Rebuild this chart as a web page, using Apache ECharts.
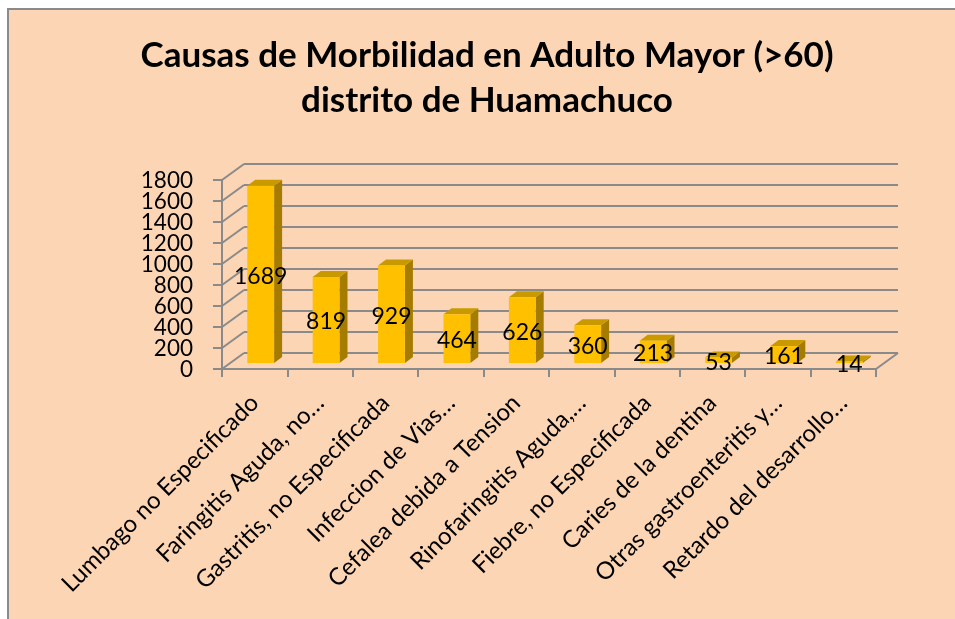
<!DOCTYPE html>
<html>
<head>
<meta charset="utf-8">
<script src="https://cdn.jsdelivr.net/npm/echarts@6/dist/echarts.min.js"></script>
<style>
html,body{margin:0;padding:0;background:#fff;}
#chart{width:955px;height:619px;}
</style>
</head>
<body>
<div id="chart"></div>
<script>
const titleLines = ['Causas de Morbilidad en Adulto Mayor (>60)', 'distrito de Huamachuco'];
const categories = [
  'Lumbago no Especificado',
  'Faringitis Aguda, no…',
  'Gastritis, no Especificada',
  'Infeccion de Vias…',
  'Cefalea debida a Tension',
  'Rinofaringitis Aguda,…',
  'Fiebre, no Especificada',
  'Caries de la dentina',
  'Otras gastroenteritis y…',
  'Retardo del desarrollo…'
];
const values = [1689, 819, 929, 464, 626, 360, 213, 53, 161, 14];
const yTicks = [0, 200, 400, 600, 800, 1000, 1200, 1400, 1600, 1800];
const yTickLabels = ['0', '200', '400', '600', '800', '1000', '1200', '1400', '1600', '1800'];

const FONT = 'Lato, "Open Sans", sans-serif';
const GRID_COLOR = '#8a8a8a';
const WALL_DX = 22, WALL_DY = -16;   // back wall depth
const BAR_DX = 6, BAR_DY = -6;       // bar front plane offset
const BAR_DEPTH_X = 8, BAR_DEPTH_Y = -6;
const BAR_RATIO = 0.41;
const Y_LABEL_GAP = 29;

const chart = echarts.init(document.getElementById('chart'), null, {renderer: 'canvas'});

function wallItem(params, api) {
  const v = api.value(1);
  const bw = api.size([1, 0])[0];
  const n = categories.length;
  const pL = api.coord([0, v]);
  const pR = api.coord([n - 1, v]);
  const fx0 = pL[0] - bw / 2, fy = pL[1];
  const fx1 = pR[0] + bw / 2;
  const style = {stroke: GRID_COLOR, lineWidth: 2};
  const children = [
    {type: 'line', shape: {x1: fx0, y1: fy, x2: fx0 + WALL_DX, y2: fy + WALL_DY}, style: style},
    {type: 'line', shape: {x1: fx0 + WALL_DX, y1: fy + WALL_DY, x2: fx1 + WALL_DX, y2: fy + WALL_DY}, style: style},
    {type: 'text', style: {text: yTickLabels[params.dataIndex], x: fx0 - Y_LABEL_GAP, y: fy + 1,
      align: 'right', verticalAlign: 'middle', fill: '#000', fontSize: 22.5, fontFamily: FONT}}
  ];
  if (v === 0) {
    children.push({type: 'line', shape: {x1: fx1, y1: fy, x2: fx1 + WALL_DX, y2: fy + WALL_DY}, style: style});
  }
  return {type: 'group', children: children};
}

function barItem(params, api) {
  const i = api.value(0), v = api.value(1);
  const bw = api.size([1, 0])[0];
  const base = api.coord([i, 0]);
  const top = api.coord([i, v]);
  const w = bw * BAR_RATIO;
  const cx = base[0] + BAR_DX;
  const x0 = cx - w / 2, x1 = cx + w / 2;
  const yb = base[1] + BAR_DY, yt = top[1] + BAR_DY;
  return {
    type: 'group',
    children: [
      {type: 'polygon', shape: {points: [[x1, yb], [x1 + BAR_DEPTH_X, yb + BAR_DEPTH_Y], [x1 + BAR_DEPTH_X, yt + BAR_DEPTH_Y], [x1, yt]]},
        style: {fill: '#A67C00'}},
      {type: 'polygon', shape: {points: [[x0, yt], [x1, yt], [x1 + BAR_DEPTH_X, yt + BAR_DEPTH_Y], [x0 + BAR_DEPTH_X, yt + BAR_DEPTH_Y]]},
        style: {fill: '#C99A00'}},
      {type: 'rect', shape: {x: x0, y: yt, width: w, height: yb - yt}, style: {fill: '#FFC000'}}
    ]
  };
}

function labelItem(params, api) {
  const i = api.value(0), v = api.value(1);
  const base = api.coord([i, 0]);
  const top = api.coord([i, v]);
  const cx = base[0] + BAR_DX;
  const yb = base[1] + BAR_DY, yt = top[1] + BAR_DY;
  return {
    type: 'text',
    style: {text: String(v), x: cx, y: (yb + yt) / 2 + 2, align: 'center', verticalAlign: 'middle',
      fill: '#000', fontSize: 23, fontFamily: FONT}
  };
}

const option = {
  backgroundColor: '#ffffff',
  animation: false,
  graphic: [
    {type: 'rect', z: -100, shape: {x: 8, y: 9, width: 1000, height: 700},
      style: {fill: '#FCD5B4', stroke: '#8a8a8a', lineWidth: 2}},
    {type: 'text', z: 10, style: {text: titleLines.join('\n'), x: 487, y: 33, align: 'center', verticalAlign: 'top',
      fontSize: 35, fontWeight: 'bold', fontFamily: FONT, lineHeight: 45, fill: '#000'}}
  ],
  grid: {left: 222, right: 79, top: 180, bottom: 250, containLabel: false},
  xAxis: {
    type: 'category',
    data: categories,
    boundaryGap: true,
    axisLine: {show: true, lineStyle: {color: GRID_COLOR, width: 2}},
    axisTick: {show: true, length: 8, lineStyle: {color: GRID_COLOR, width: 2}},
    axisLabel: {interval: 0, rotate: 45, margin: 30, fontSize: 24, fontFamily: FONT, color: '#000'},
    splitLine: {show: false}
  },
  yAxis: {
    type: 'value',
    min: 0, max: 1800, interval: 200,
    axisLine: {show: true, lineStyle: {color: GRID_COLOR, width: 2}},
    axisTick: {show: true, length: 9, lineStyle: {color: GRID_COLOR, width: 2}},
    axisLabel: {show: false},
    splitLine: {show: false}
  },
  series: [
    {type: 'custom', name: 'wall', z: 1, clip: false, renderItem: wallItem, silent: true,
      data: yTicks.map(v => [0, v])},
    {type: 'custom', name: 'bars', z: 3, clip: false, renderItem: barItem,
      data: values.map((v, i) => [i, v])},
    {type: 'custom', name: 'labels', z: 5, clip: false, renderItem: labelItem, silent: true,
      data: values.map((v, i) => [i, v])}
  ]
};
chart.setOption(option);
</script>
</body>
</html>
